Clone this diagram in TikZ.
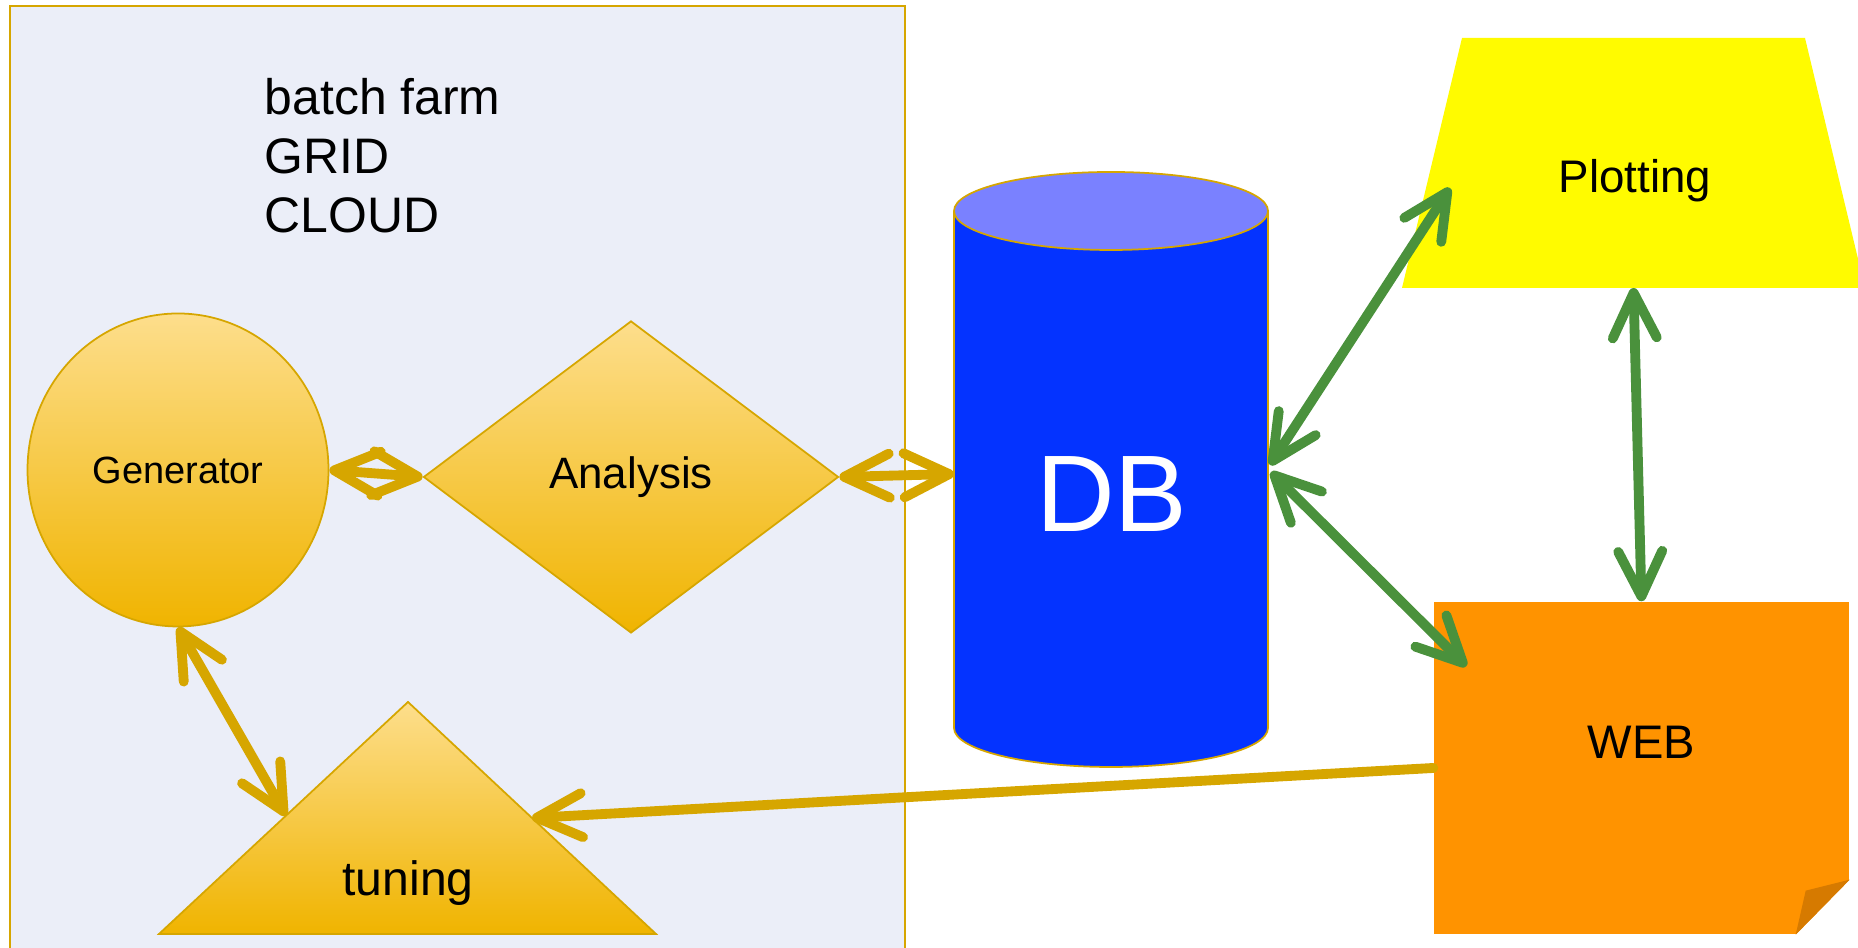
\documentclass[tikz,border=0pt]{standalone}
\usepackage{fontspec}
\setmainfont{Liberation Sans}
\usetikzlibrary{calc,shapes.geometric,arrows.meta}
\definecolor{PanelFill}{RGB}{235,238,248}
\definecolor{BorderGold}{RGB}{214,166,0}
\definecolor{ShapeGoldTop}{RGB}{253,222,140}
\definecolor{ShapeGoldBottom}{RGB}{240,180,0}
\definecolor{LinkGreen}{RGB}{74,145,60}
\definecolor{DBBody}{RGB}{4,51,255}
\definecolor{DBTop}{RGB}{122,129,255}
\definecolor{PlotYellow}{RGB}{255,251,0}
\definecolor{WebOrange}{RGB}{255,147,0}
\definecolor{WebFold}{RGB}{214,122,0}

\begin{document}
\begin{tikzpicture}[
    >={Straight Barb[length=4.5mm,width=4.4mm,round,line width=2.8pt]},
    GoldShape/.style={draw=BorderGold, line width=0.5pt,
        top color=ShapeGoldTop, bottom color=ShapeGoldBottom, inner sep=0pt},
    Link/.style={line width=2.8pt, line cap=round, <->},
    GoldLink/.style={Link, BorderGold},
    GreenLink/.style={Link, LinkGreen}
]

    \useasboundingbox (0, 0) rectangle (18.58, 9.48);

    % Recuadro de la granja de calculo.
    \draw[BorderGold, fill=PanelFill, line width=0.6pt] (0.10, -0.10) rectangle (9.05, 9.42);

    \foreach \txt [count=\i] in {batch farm, GRID, CLOUD}
        \node[anchor=base west, inner sep=0pt, font=\fontsize{14.2}{17}\selectfont]
            (info\i) at (2.64, 8.92 - 0.59*\i) {\txt};

    \node[GoldShape, ellipse, minimum width=3.01cm, minimum height=3.13cm,
        font=\fontsize{10.8}{13}\selectfont] (Gen) at (1.78, 4.78) {Generator};

    \node[GoldShape, diamond, minimum width=4.15cm, minimum height=3.12cm,
        font=\fontsize{12.5}{15}\selectfont] (Ana) at (6.31, 4.71) {Analysis};

    \coordinate (T1) at (4.08, 2.46);
    \coordinate (T2) at (1.59, 0.14);
    \coordinate (T3) at (6.56, 0.14);
    \draw[GoldShape] (T1) -- (T2) -- (T3) -- cycle;
    \node[anchor=base, inner sep=0pt, font=\fontsize{13.7}{16}\selectfont] (Tun) at (4.08, 0.52) {tuning};
    \coordinate (TunL) at ($(T1)!0.49!(T2)$);
    \coordinate (TunR) at ($(T1)!0.50!(T3)$);

    % Cilindro de la base de datos.
    \draw[BorderGold, line width=0.5pt, fill=DBBody]
        (9.54, 7.37) -- (9.54, 2.20)
        arc[start angle=180, end angle=360, x radius=1.57, y radius=0.39]
        -- (12.68, 7.37);
    \draw[BorderGold, line width=0.5pt, fill=DBTop] (11.11, 7.37) ellipse [x radius=1.57, y radius=0.39];
    \node[text=white, inner sep=0pt, font=\fontsize{31}{36}\selectfont] (DB) at (11.12, 4.54) {DB};
    \coordinate (DBw) at (9.54, 4.74);
    \coordinate (DBe1) at (12.70, 4.83);
    \coordinate (DBe2) at (12.71, 4.76);

    % Trapecio de las graficas.
    \coordinate (P1) at (14.02, 6.60);
    \coordinate (P2) at (14.62, 9.10);
    \coordinate (P3) at (18.05, 9.10);
    \coordinate (P4) at (18.65, 6.60);
    \fill[PlotYellow] (P1) -- (P2) -- (P3) -- (P4) -- cycle;
    \node[anchor=base, inner sep=0pt, font=\fontsize{13}{16}\selectfont] (Plot) at (16.35, 7.55) {Plotting};
    \coordinate (PlotS) at ($(P1)!0.5!(P4)$);
    \coordinate (PlotIn) at ($(P1)!0.4!(P2) + (0.24, 0)$);

    \node[rectangle, fill=WebOrange, minimum width=4.15cm, minimum height=3.32cm, inner sep=0pt,
        text depth=0.52cm, font=\fontsize{13.4}{16}\selectfont] (Web) at (16.415, 1.80) {WEB};
    \fill[white] ($(Web.south east) + (0, 0.55)$) -- (Web.south east) -- ($(Web.south east) + (-0.54, 0)$) -- cycle;
    \fill[WebFold] ($(Web.south east) + (0, 0.55)$) -- ($(Web.south east) + (-0.54, 0)$)
        -- ($(Web.south east) + (-0.44, 0.44)$) -- cycle;
    \coordinate (WebIn) at ($(Web.north west) + (0.33, -0.65)$);

    \draw[GoldLink] (Gen.east) -- (Ana.west);
    \draw[GoldLink] (Ana.east) -- (DBw);
    \draw[GoldLink] (Gen.south) -- (TunL);
    \draw[GoldLink, ->] (Web.west) -- (TunR);

    \draw[GreenLink] (DBe1) -- (PlotIn);
    \draw[GreenLink] (DBe2) -- (WebIn);
    \draw[GreenLink] (PlotS) -- (Web.north);
\end{tikzpicture}
\end{document}
